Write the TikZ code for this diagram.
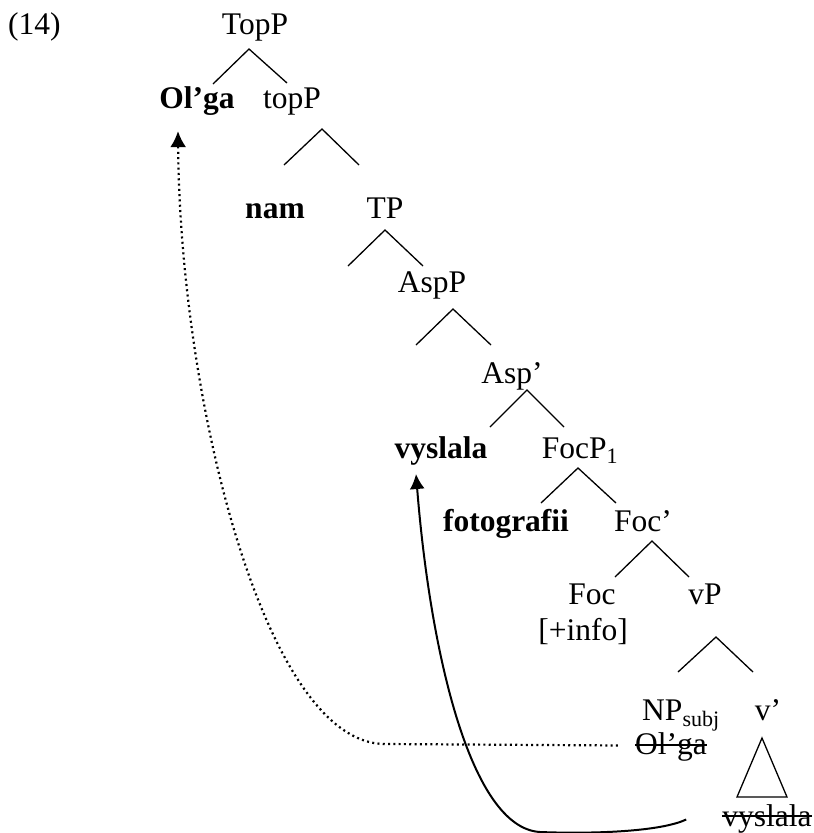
\documentclass[tikz,border=0pt]{standalone}
\usepackage{fontspec}
\setmainfont{Liberation Serif}
\usetikzlibrary{arrows.meta}
\begin{document}
\begin{tikzpicture}[x=1pt,y=-1pt,
  lab/.style={inner sep=0pt,anchor=base,font=\fontsize{31.5}{36}\selectfont},
  blab/.style={lab,font=\fontsize{31.5}{36}\selectfont\bfseries},
  branch/.style={line width=1.3pt},
  strike/.style={line width=1.3pt},
  mv/.style={line width=2pt,-{Latex[length=15pt,width=15pt]}},
  mvdot/.style={line width=2.2pt,dash pattern=on 2pt off 3.3pt,-{Latex[length=16pt,width=16pt]}}]
\useasboundingbox (0,0) rectangle (814,833);
% labels
\node[lab,anchor=base west] (ex) at (8,34) {(14)};
\node[lab] (TopP) at (255,34) {TopP};
\node[blab] (olga) at (197,108) {Ol’ga};
\node[lab] (topP) at (292,108) {topP};
\node[blab] (nam) at (275,218) {nam};
\node[lab] (TP) at (385,218) {TP};
\node[lab] (AspP) at (432,292) {AspP};
\node[lab] (Aspbar) at (512,383) {Asp’};
\node[blab] (vys) at (441,458) {vyslala};
\node[lab] (FocP) at (580,458) {FocP\textsubscript{1}};
\node[blab] (foto) at (506,531) {fotografii};
\node[lab] (Focbar) at (643,531) {Foc’};
\node[lab] (Foc) at (592,604) {Foc};
\node[lab] (info) at (583,640) {[+info]};
\node[lab] (vP) at (705,604) {vP};
\node[lab] (NP) at (681,720) {NP\textsubscript{subj}};
\node[lab] (vbar) at (768,720) {v’};
\node[lab] (ostr) at (671,754) {Ol’ga};
\node[lab] (vstr) at (767,826) {vyslala};
% strike-throughs
\draw[strike] ([yshift=9pt]ostr.base west) -- ([yshift=9pt]ostr.base east);
\draw[strike] ([yshift=10pt]vstr.base west) -- ([yshift=10pt]vstr.base east);
% branches
\draw[branch] (213,84) -- (249,49) -- (287,83);
\draw[branch] (284,165) -- (322,129) -- (359,165);
\draw[branch] (348,266) -- (385,230) -- (423,266);
\draw[branch] (416,345) -- (453,309) -- (491,345);
\draw[branch] (490,427) -- (527,390) -- (564,427);
\draw[branch] (541,503) -- (578,468) -- (616,503);
\draw[branch] (615,577) -- (652,541) -- (689,577);
\draw[branch] (678,672) -- (716,637) -- (753,672);
\draw[branch] (762,738) -- (737,797) -- (787,797) -- cycle;
% movement arrows
\draw[mvdot] ([xshift=-17pt,yshift=1pt]ostr.west) -- (385,744) .. controls (265,744) and (180,400) .. ([xshift=-19pt,yshift=-16pt]olga.south);
\draw[mv] ([xshift=-36pt,yshift=-1pt]vstr.west) .. controls (660,832) and (590,834) .. (540,832) .. controls (470,828) and (430,650) .. ([xshift=-25pt,yshift=-9pt]vys.south);
\end{tikzpicture}
\end{document}
